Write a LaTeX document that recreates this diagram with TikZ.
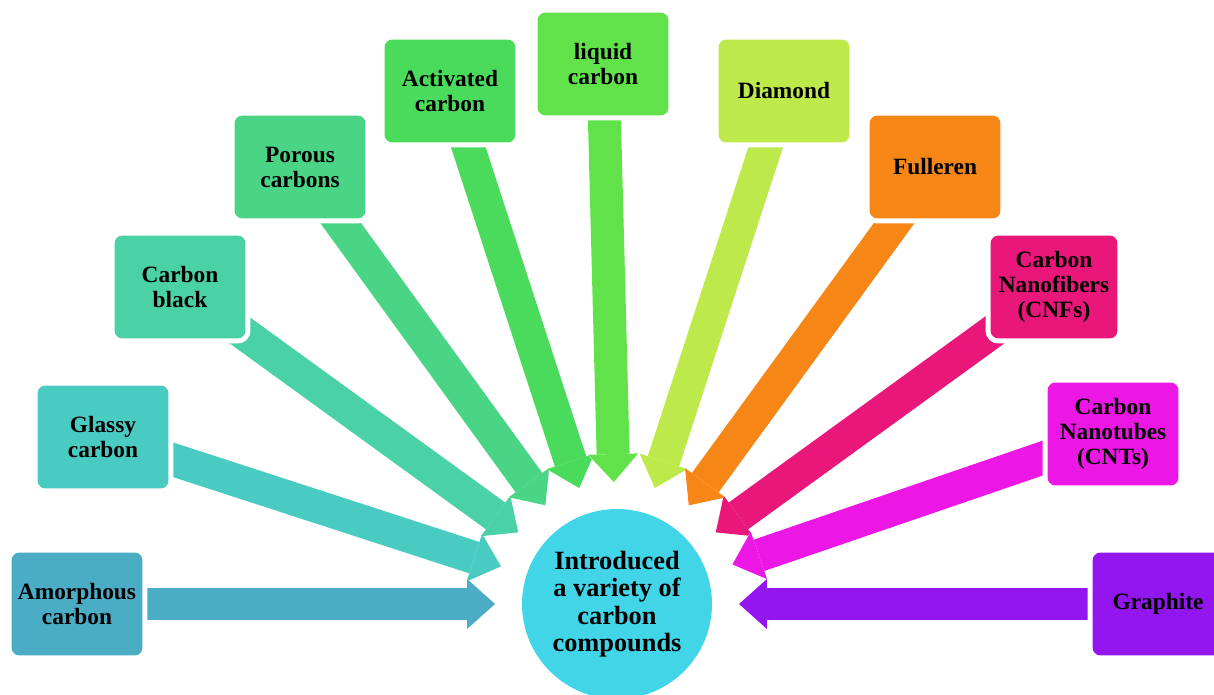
\documentclass[tikz,border=0pt]{standalone}
\usepackage{fontspec}
\setmainfont{Liberation Serif}
\usetikzlibrary{arrows.meta,backgrounds}

\definecolor{amorphcol}{HTML}{4BACC6}
\definecolor{glassycol}{HTML}{4ACBC1}
\definecolor{blackcol}{HTML}{4BD1A6}
\definecolor{porouscol}{HTML}{4AD586}
\definecolor{activecol}{HTML}{4ADB5C}
\definecolor{liquidcol}{HTML}{62E24A}
\definecolor{diamondcol}{HTML}{BDEA4A}
\definecolor{fullercol}{HTML}{F68717}
\definecolor{cnfcol}{HTML}{E9177A}
\definecolor{cntcol}{HTML}{EC17E4}
\definecolor{graphitecol}{HTML}{9216ED}
\definecolor{hubcol}{HTML}{42D5E8}

\begin{document}
\begin{tikzpicture}[x=0.02cm,y=-0.02cm,
  kind node/.style={rectangle,rounded corners=0.16cm,fill=#1,minimum width=2.62cm,
    minimum height=2.06cm,inner sep=0pt,align=center,
    font=\fontsize{13.3}{14.2}\selectfont\bfseries,
    preaction={draw=white,line width=0.2cm}},
  hub node/.style={circle,fill=hubcol,minimum size=3.8cm,inner sep=0pt,align=center,
    font=\fontsize{15}{15.6}\selectfont\bfseries},
  feed/.style={draw=#1,line width=0.66cm,shorten >=2.44cm,
    -{Triangle[width=1cm,length=0.56cm,line width=0pt]},
    preaction={draw=white,line width=0.74cm,
      -{Triangle[width=1.12cm,length=0.62cm,line width=0pt]}}}]

  \useasboundingbox (0,0) rectangle (1214,695);

  \node[hub node] (hub) at (617,604) {Introduced\\a variety of\\carbon\\compounds};

  \node[kind node=amorphcol] (amorph) at (77,604) {Amorphous\\carbon};
  \node[kind node=glassycol] (glassy) at (103,437) {Glassy\\carbon};
  \node[kind node=blackcol] (black) at (180,287) {Carbon\\black};
  \node[kind node=porouscol] (porous) at (300,167) {Porous\\carbons};
  \node[kind node=activecol] (active) at (450,91) {Activated\\carbon};
  \node[kind node=liquidcol] (liquid) at (603,64) {liquid\\carbon};
  \node[kind node=diamondcol] (diamond) at (784,91) {Diamond};
  \node[kind node=fullercol] (fuller) at (935,167) {Fulleren};
  \node[kind node=cnfcol,minimum width=2.54cm] (cnf) at (1054,287) {Carbon\\Nanofibers\\(CNFs)};
  \node[kind node=cntcol] (cnt) at (1113,434) {Carbon\\Nanotubes\\(CNTs)};
  \node[kind node=graphitecol] (graphite) at (1158,604) {Graphite};

  \begin{scope}[on background layer]
  \path
    (glassy.center) edge[feed=glassycol] (hub.center)
    (amorph.center) edge[feed=amorphcol] (hub.center)
    (black.center) edge[feed=blackcol] (hub.center)
    (porous.center) edge[feed=porouscol] (hub.center)
    (active.center) edge[feed=activecol] (hub.center)
    (liquid.center) edge[feed=liquidcol] (hub.center)
    (diamond.center) edge[feed=diamondcol] (hub.center)
    (fuller.center) edge[feed=fullercol] (hub.center)
    (cnf.center) edge[feed=cnfcol] (hub.center)
    (cnt.center) edge[feed=cntcol] (hub.center)
    (graphite.center) edge[feed=graphitecol] (hub.center);
  \end{scope}

\end{tikzpicture}
\end{document}
